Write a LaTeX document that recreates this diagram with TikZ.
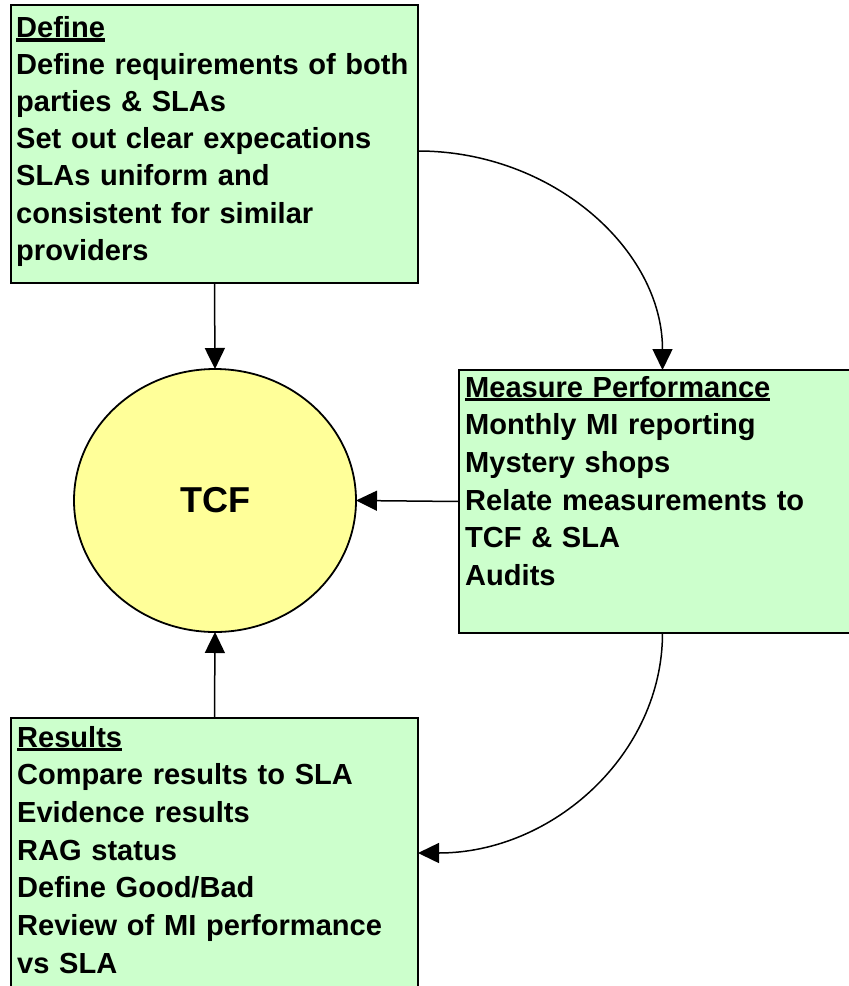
\documentclass[tikz,border=0pt]{standalone}
\usepackage{fontspec}
\setmainfont{Liberation Sans}
\usetikzlibrary{arrows.meta,shapes.geometric}
\definecolor{boxgreen}{HTML}{CCFFCC}
\definecolor{tcfyellow}{HTML}{FFFF99}
\newcommand\hdr[1]{\setbox0\hbox{#1}\rlap{\rule[-4pt]{\wd0}{3.2pt}}\box0}
\tikzset{
  greenbox/.style={draw=black, line width=2pt, fill=boxgreen, rectangle, inner sep=0pt, outer sep=0pt, minimum width=407pt},
  boxtext/.style={anchor=base west, inner sep=0pt, text width=430pt, align=left, font=\fontsize{29.05}{37.7}\selectfont\bfseries},
  conn/.style={line width=1.5pt, -{Triangle[length=21pt,width=20pt]}},
}
\begin{document}
\begin{tikzpicture}[x=1pt,y=-1pt]
\useasboundingbox (0,0) rectangle (849,986);
\clip (0,0) rectangle (849,986);
\node[greenbox, minimum height=278pt] (def) at (214.5,144) {};
\node[greenbox, minimum height=263pt] (meas) at (662.5,501.5) {};
\node[greenbox, minimum height=270pt] (res) at (214.5,853) {};
\node[ellipse, draw=black, line width=1.8pt, fill=tcfyellow, minimum width=282pt, minimum height=263pt, inner sep=0pt, outer sep=0pt,
      font=\fontsize{36}{40}\selectfont\bfseries] (tcf) at (215,500.5) {TCF};
\node[boxtext, font=\fontsize{29.05}{37.1}\selectfont\bfseries] (deftxt) at (16,37.5) {\hdr{Define}\\Define requirements of both\\parties \& SLAs\\Set out clear expecations\\SLAs uniform and\\consistent for similar\\providers};
\node[boxtext] (meastxt) at (465,397) {\hdr{Measure Performance}\\Monthly MI reporting\\Mystery shops\\Relate measurements to\\TCF \& SLA\\Audits};
\node[boxtext] (restxt) at (17,747) {\hdr{Results}\\Compare results to SLA\\Evidence results\\RAG status\\Define Good/Bad\\Review of MI performance\\vs SLA};
\draw[conn] (def.south) -- (tcf.north);
\draw[conn] (meas.west) -- (tcf.east);
\draw[conn] (res.north) -- (tcf.south);
\draw[conn] ([yshift=-7pt]def.east) .. controls +(135,0) and +(0,-120) .. (meas.north);
\draw[conn] (meas.south) .. controls +(0,121) and +(135,0) .. (res.east);
\end{tikzpicture}
\end{document}
